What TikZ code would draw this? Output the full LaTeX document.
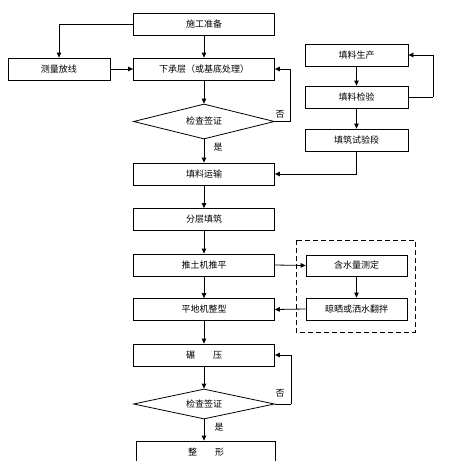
\documentclass[tikz,border=0pt]{standalone}
\usepackage{fontspec}
\newfontfamily\cjk{Noto Sans CJK SC}
\usetikzlibrary{shapes.geometric,arrows.meta}
\begin{document}
\begin{tikzpicture}[x=1pt,y=-1pt,
  font=\cjk\fontsize{9}{10}\selectfont,
  box/.style={draw,line width=0.8pt,minimum width=141pt,minimum height=22pt,inner sep=0pt},
  sbox/.style={draw,line width=0.8pt,minimum width=103pt,minimum height=22pt,inner sep=0pt},
  dia/.style={draw,line width=0.8pt,diamond,aspect=4,inner sep=0pt,minimum width=141pt,minimum height=35pt},
  arr/.style={line width=0.8pt,-{Triangle[length=5pt,width=4.5pt]}},
  ln/.style={line width=0.8pt},
  lbl/.style={inner sep=0pt}]
\useasboundingbox (0,0) rectangle (453,461);
\node[box] (prep) at (204,24) {施工准备};
\node[box,minimum width=102pt] (survey) at (59,69) {测量放线};
\node[box] (base) at (204,69) {下承层（或基底处理）};
\node[dia] (check1) at (204,121.5) {检查签证};
\node[box] (transport) at (204,174) {填料运输};
\node[box] (layer) at (204,219.5) {分层填筑};
\node[box] (dozer) at (204,265) {推土机推平};
\node[box] (grader) at (204,309.5) {平地机整型};
\node[box] (roll) at (204,355) {碾\quad\quad 压};
\node[dia,minimum height=30pt] (check2) at (204,404) {检查签证};
\node[box,minimum width=139pt] (shape) at (206,452) {整\quad\quad 形};
\node[sbox] (prod) at (356.5,55) {填料生产};
\node[sbox] (inspect) at (356.5,97) {填料检验};
\node[sbox] (trial) at (356.5,140) {填筑试验段};
\node[sbox,minimum width=101pt,minimum height=21pt] (moist) at (356.5,265.5) {含水量测定};
\node[sbox,minimum width=101pt] (dry) at (356.5,309) {晾晒或洒水翻拌};
\draw[ln,dashed,dash pattern=on 5pt off 3pt] (296,240) rectangle (415,332);
\coordinate (c1) at (290,121.5);
\coordinate (c2) at (433,97);
\coordinate (c3) at (291,404);
\draw[arr] (prep.west) -| (survey.north);
\draw[arr] (prep) -- (base);
\draw[arr] (survey) -- (base);
\draw[arr] (base) -- (check1);
\draw[ln] (check1.east) -- (c1);
\draw[arr] (c1) |- (base.east);
\node[lbl] (no1) at (280,114) {否};
\draw[arr] (check1) -- (transport);
\node[lbl] (yes1) at (218,147) {是};
\draw[arr] (prod) -- (inspect);
\draw[arr] (inspect) -- (trial);
\draw[ln] (inspect.east) -- (c2);
\draw[arr] (c2) |- (prod.east);
\draw[arr] (trial.south) |- (transport.east);
\draw[arr] (transport) -- (layer);
\draw[arr] (layer) -- (dozer);
\draw[arr] (dozer) -- (grader);
\draw[arr] (grader) -- (roll);
\draw[arr] (roll) -- (check2);
\draw[arr] (check2) -- (shape.north -| check2.south);
\draw[arr] (dozer.east) -- (moist.west);
\draw[arr] (moist) -- (dry);
\draw[arr] (dry.west) -- (grader.east);
\draw[ln] (check2.east) -- (c3);
\draw[arr] (c3) |- (roll.east);
\node[lbl] (no2) at (280,393) {否};
\node[lbl] (yes2) at (219,427) {是};
\end{tikzpicture}
\end{document}
